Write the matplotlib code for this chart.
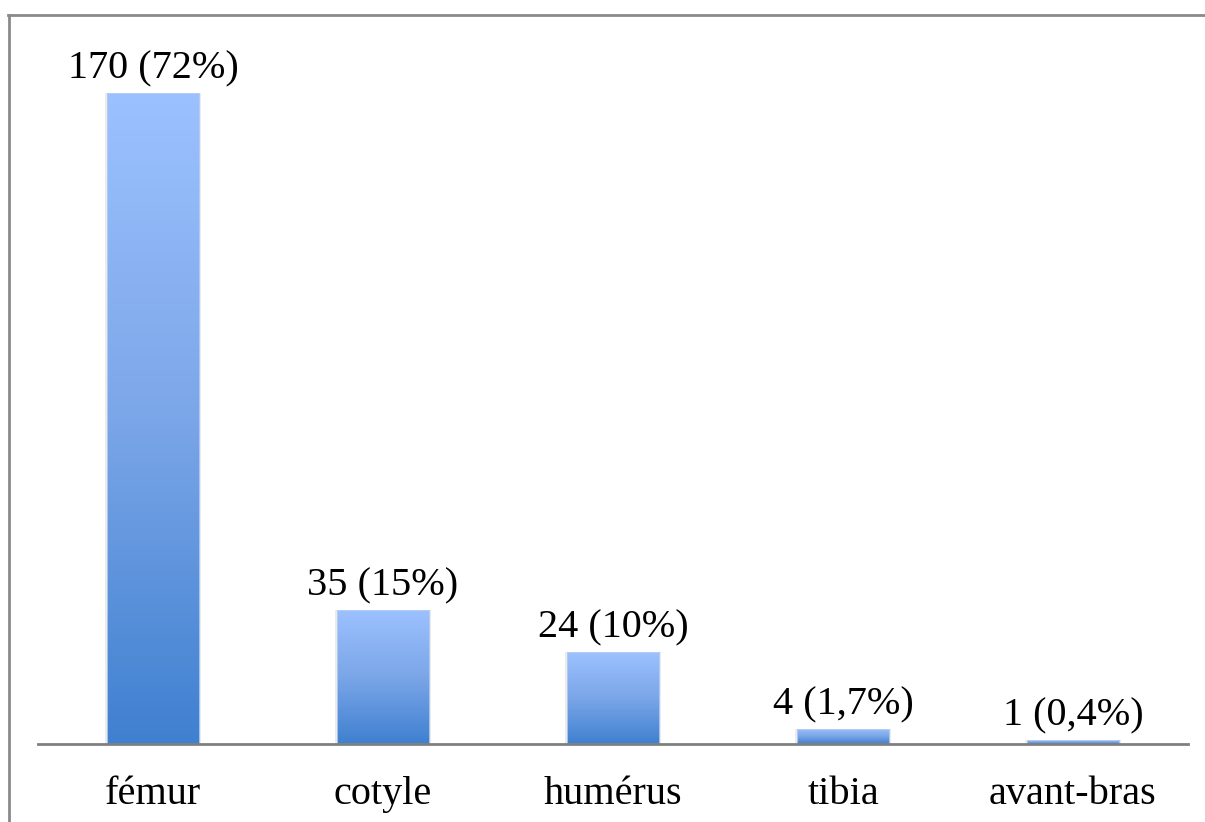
import numpy as np
import matplotlib
matplotlib.use("Agg")
import matplotlib.pyplot as plt
from matplotlib.colors import LinearSegmentedColormap
from matplotlib.lines import Line2D

categories = ["fémur", "cotyle", "humérus", "tibia", "avant-bras"]
values = [170, 35, 24, 4, 1]
labels = ["170 (72%)", "35 (15%)", "24 (10%)", "4 (1,7%)", "1 (0,4%)"]

plt.rcParams['font.family'] = ['Liberation Serif', 'DejaVu Serif']

W, H = 1205, 822
fig = plt.figure(figsize=(W / 100, H / 100), dpi=100)
ax = fig.add_axes([38 / W, (H - 744) / H, 1150 / W, (744 - 16) / H])

x = np.arange(len(categories))
width = 0.404
cmap = LinearSegmentedColormap.from_list("g", ["#3F80D0", "#7BA6E8", "#9CC1FF"])
grad = np.linspace(0, 1, 256).reshape(-1, 1)

bars = ax.bar(x, values, width=width, color="none", edgecolor="none", zorder=2)
for b in bars:
    x0, y0 = b.get_x(), b.get_y()
    w, h = b.get_width(), b.get_height()
    # soft shadow
    ax.bar(x0 + w / 2, h, width=w * 1.04, color="#d8d8d8", alpha=0.5, zorder=1)
    im = ax.imshow(grad, extent=[x0, x0 + w, y0, y0 + h], origin="lower",
                   cmap=cmap, aspect="auto", zorder=2)
    im.set_clip_path(b)
    ax.add_patch(plt.Rectangle((x0, y0), w, h, fill=False, edgecolor="#b8d0f0",
                               linewidth=0.6, zorder=3))

for xi, v, lab in zip(x, values, labels):
    ax.annotate(lab, (xi, v), xytext=(0, 4), textcoords="offset points",
                ha="center", va="bottom", fontsize=29, color="black")

ax.set_xlim(-0.5, len(categories) - 0.5)
ax.set_ylim(0, 190)
ax.set_xticks(x)
ax.set_xticklabels(categories, fontsize=29)
ax.tick_params(axis="x", length=0, pad=23)
ax.set_yticks([])
for s in ["top", "right", "left"]:
    ax.spines[s].set_visible(False)
ax.spines["bottom"].set_color("#808080")
ax.spines["bottom"].set_linewidth(2)
ax.spines["bottom"].set_zorder(4)

# outer frame lines (top and left)
fig.add_artist(Line2D([8 / W, 1 / 1], [1 - 15 / H, 1 - 15 / H], color="#8a8a8a", lw=2,
                      transform=fig.transFigure))
fig.add_artist(Line2D([9 / W, 9 / W], [0, 1 - 15 / H], color="#8a8a8a", lw=2,
                      transform=fig.transFigure))

fig.savefig("out.png", dpi=100)
